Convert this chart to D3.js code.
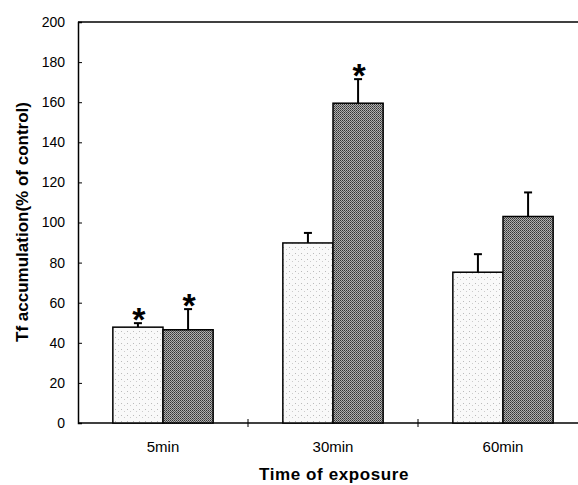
<!DOCTYPE html>
<html>
<head>
<meta charset="utf-8">
<script src="https://cdn.jsdelivr.net/npm/d3@7"></script>
<style>
  body { margin: 0; background: #fff; }
  text { font-family: "Liberation Sans", Arial, sans-serif; }
</style>
</head>
<body>
<svg id="plot" width="578" height="485"></svg>
<script>
// data
let categories = ["5min", "30min", "60min"]
let lightVals = [47.8, 89.8, 75.2]
let lightErr = [2, 5, 9]
let darkVals = [46.5, 159.5, 103]
let darkErr = [10.3, 12, 12]
let lightStar = [true, false, false]
let darkStar = [true, true, false]
let yTicks = [0, 20, 40, 60, 80, 100, 120, 140, 160, 180, 200]

let svg = d3.select("#plot")

// stipple patterns
let defs = svg.append("defs")
let pl = defs.append("pattern").attr("id", "light")
  .attr("width", 6).attr("height", 6).attr("patternUnits", "userSpaceOnUse")
pl.append("rect").attr("width", 6).attr("height", 6).attr("fill", "#f9f9f9")
pl.append("rect").attr("x", 1).attr("y", 1).attr("width", 1).attr("height", 1).attr("fill", "#bbb")
pl.append("rect").attr("x", 4).attr("y", 3).attr("width", 1).attr("height", 1).attr("fill", "#ccc")

let pd = defs.append("pattern").attr("id", "dark")
  .attr("width", 2).attr("height", 2).attr("patternUnits", "userSpaceOnUse")
pd.append("rect").attr("width", 2).attr("height", 2).attr("fill", "#b0b0b0")
pd.append("rect").attr("x", 0).attr("y", 0).attr("width", 1).attr("height", 1).attr("fill", "#333")
pd.append("rect").attr("x", 1).attr("y", 1).attr("width", 1).attr("height", 1).attr("fill", "#555")

// setup scales
let xScale = d3.scaleBand()
  .domain(categories)
  .range([78, 588])
  .paddingInner(0.41)
  .paddingOuter(0.205)

let yScale = d3.scaleLinear()
  .domain([0, 200])
  .range([423, 22])

let bw = xScale.bandwidth() / 2

// top frame line
svg.append("line").attr("x1", 78).attr("x2", 578).attr("y1", yScale(200)).attr("y2", yScale(200))
  .attr("stroke", "#000").attr("stroke-width", 1.5)

// y axis
let yAxis = d3.axisLeft(yScale).tickValues(yTicks).tickSize(-4).tickPadding(13)
let gy = svg.append("g").attr("transform", "translate(78,0)").call(yAxis)
gy.select(".domain").attr("stroke-width", 1.5)
gy.selectAll("text").attr("font-size", 14).attr("fill", "#000")
  .attr("font-family", "Liberation Sans, Arial, sans-serif")

// x axis
let xAxis = d3.axisBottom(xScale).tickSize(0).tickPadding(18)
let gx = svg.append("g").attr("transform", "translate(0,423)").call(xAxis)
gx.select(".domain").remove()
gx.selectAll("text").attr("font-size", 15).attr("fill", "#000")
  .attr("font-family", "Liberation Sans, Arial, sans-serif")
svg.append("line").attr("x1", 78).attr("x2", 578).attr("y1", 423).attr("y2", 423)
  .attr("stroke", "#000").attr("stroke-width", 1.5)
// boundary ticks between groups
let bounds = [78 + xScale.step(), 78 + xScale.step() * 2]
svg.selectAll(".btick").data(bounds).enter().append("line")
  .attr("x1", d => d).attr("x2", d => d).attr("y1", 419).attr("y2", 427)
  .attr("stroke", "#000").attr("stroke-width", 1)

// bars
let groups = categories.map((c, i) => ({
  c: c,
  bars: [
    {x: xScale(c), v: lightVals[i], e: lightErr[i], star: lightStar[i], fill: "url(#light)"},
    {x: xScale(c) + bw, v: darkVals[i], e: darkErr[i], star: darkStar[i], fill: "url(#dark)"}
  ]
}))
let allBars = groups.flatMap(g => g.bars)

// error bars
svg.selectAll(".err").data(allBars).enter().append("line")
  .attr("x1", d => d.x + bw / 2).attr("x2", d => d.x + bw / 2)
  .attr("y1", d => yScale(d.v)).attr("y2", d => yScale(d.v + d.e))
  .attr("stroke", "#000").attr("stroke-width", 2)
svg.selectAll(".cap").data(allBars).enter().append("line")
  .attr("x1", d => d.x + bw / 2 - 4).attr("x2", d => d.x + bw / 2 + 4)
  .attr("y1", d => yScale(d.v + d.e)).attr("y2", d => yScale(d.v + d.e))
  .attr("stroke", "#000").attr("stroke-width", 2)

svg.selectAll(".bar").data(allBars).enter().append("rect")
  .attr("x", d => d.x).attr("y", d => yScale(d.v))
  .attr("width", bw).attr("height", d => yScale(0) - yScale(d.v))
  .attr("fill", d => d.fill).attr("stroke", "#000").attr("stroke-width", 1.5)

// significance stars
svg.selectAll(".star").data(allBars.filter(d => d.star)).enter().append("text")
  .attr("x", d => d.x + bw / 2 + 1).attr("y", d => yScale(d.v + d.e) + 8)
  .attr("text-anchor", "middle").attr("font-size", 34).attr("font-weight", "bold")
  .text("*")

// axis titles
svg.append("text").attr("x", 334).attr("y", 480).attr("text-anchor", "middle")
  .attr("font-size", 17).attr("font-weight", "bold").attr("letter-spacing", 0.6)
  .text("Time of exposure")
svg.append("text").attr("transform", "translate(28,222) rotate(-90)").attr("text-anchor", "middle")
  .attr("font-size", 17).attr("font-weight", "bold").text("Tf accumulation(% of control)")
</script>
</body>
</html>
